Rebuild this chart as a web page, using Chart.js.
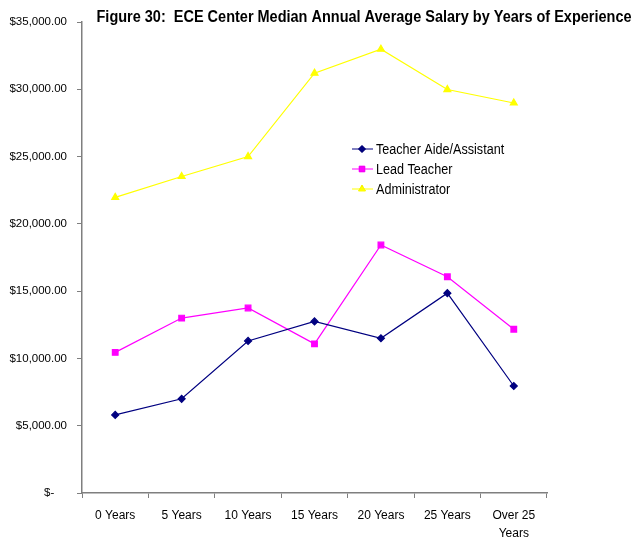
<!DOCTYPE html>
<html>
<head>
<meta charset="utf-8">
<script src="https://cdn.jsdelivr.net/npm/chart.js@4.4.1/dist/chart.umd.min.js"></script>
<style>
  html, body { margin: 0; padding: 0; background: #fff; }
  #wrap { width: 635px; height: 538px; }
</style>
</head>
<body>
<div id="wrap"><canvas id="salary-chart" width="635" height="538"></canvas></div>
<script>
const chartTitle = 'Figure 30:  ECE Center Median Annual Average Salary by Years of Experience';
const categories = ['0 Years', '5 Years', '10 Years', '15 Years', '20 Years', '25 Years', ['Over 25', 'Years']];
const seriesNames = ['Teacher Aide/Assistant', 'Lead Teacher', 'Administrator'];
const aideValues = [5800, 7000, 11300, 12750, 11500, 14850, 7950];
const leadValues = [10450, 13000, 13750, 11080, 18430, 16070, 12170];
const adminValues = [21970, 23520, 25000, 31200, 32980, 29980, 28980];
const yTicks = [0, 5000, 10000, 15000, 20000, 25000, 30000, 35000];

const FONT = '"Liberation Sans", Arial, sans-serif';
const AXIS_GREY = '#7f7f7f';

// accounting style: zero shows as a dash sitting under the digits
const fmtMoney = (v) => v === 0 ? '$-    ' :
  '$' + v.toLocaleString('en-US', { minimumFractionDigits: 2, maximumFractionDigits: 2 });

// squeeze text sideways a bit, the original uses a narrow face
function narrowText(ctx, text, x, y, squeeze) {
  ctx.save();
  ctx.translate(x, y);
  ctx.scale(squeeze, 1);
  ctx.fillText(text, 0, 0);
  ctx.restore();
}

// title + legend are painted by hand so they can sit where the original has them
const overlay = {
  id: 'overlay',
  afterDraw(chart) {
    const ctx = chart.ctx;
    ctx.save();
    ctx.fillStyle = '#000';
    ctx.font = 'bold 16px ' + FONT;
    ctx.textAlign = 'center';
    ctx.textBaseline = 'middle';
    const w = ctx.measureText(chartTitle).width;
    narrowText(ctx, chartTitle, 364, 18, 535 / w);

    ctx.font = '14px ' + FONT;
    ctx.textAlign = 'left';
    chart.data.datasets.forEach((ds, i) => {
      const y = 149 + i * 20;
      ctx.strokeStyle = ds.borderColor;
      ctx.lineWidth = 1;
      ctx.beginPath();
      ctx.moveTo(352, y);
      ctx.lineTo(373, y);
      ctx.stroke();
      Chart.helpers.drawPoint(ctx, {
        pointStyle: ds.pointStyle,
        radius: ds.pointRadius,
        borderWidth: 1
      }, 362, y);
      ctx.fillStyle = ds.pointBackgroundColor;
      ctx.fill();
      ctx.fillStyle = '#000';
      narrowText(ctx, seriesNames[i], 376, y + 1, 0.9);
    });
    ctx.restore();
  }
};

new Chart(document.getElementById('salary-chart'), {
  type: 'line',
  data: {
    labels: categories,
    datasets: [{
      label: seriesNames[0],
      data: aideValues,
      borderColor: '#000080',
      backgroundColor: '#000080',
      pointBackgroundColor: '#000080',
      pointBorderColor: '#000080',
      pointStyle: 'rectRot',
      pointRadius: 3.5,
      borderWidth: 1.2
    }, {
      label: seriesNames[1],
      data: leadValues,
      borderColor: '#ff00ff',
      backgroundColor: '#ff00ff',
      pointBackgroundColor: '#ff00ff',
      pointBorderColor: '#ff00ff',
      pointStyle: 'rect',
      pointRadius: 4,
      borderWidth: 1.2
    }, {
      label: seriesNames[2],
      data: adminValues,
      borderColor: '#ffff00',
      backgroundColor: '#ffff00',
      pointBackgroundColor: '#ffff00',
      pointBorderColor: '#ffff00',
      pointStyle: 'triangle',
      pointRadius: 4,
      borderWidth: 1.2
    }]
  },
  options: {
    responsive: false,
    animation: false,
    layout: { padding: { top: 22, right: 88, left: 0, bottom: 0 } },
    plugins: {
      legend: { display: false },
      title: { display: false },
      tooltip: { enabled: false }
    },
    scales: {
      x: {
        offset: true,
        grid: { display: true, drawOnChartArea: false, offset: true, tickLength: 5, color: AXIS_GREY },
        border: { color: AXIS_GREY, width: 1.5 },
        ticks: { color: '#000', font: { family: FONT, size: 12, lineHeight: 1.5 }, padding: 9, maxRotation: 0, autoSkip: false },
        afterFit(scale) { scale.height = 45; }
      },
      y: {
        min: 0,
        max: 35000,
        afterBuildTicks(scale) { scale.ticks = yTicks.map(v => ({ value: v })); },
        grid: { display: true, drawOnChartArea: false, tickLength: 5, color: AXIS_GREY },
        border: { color: AXIS_GREY, width: 1.5 },
        ticks: {
          color: '#000',
          font: { family: FONT, size: 11.5 },
          padding: 10,
          callback: (v) => fmtMoney(v)
        },
        afterFit(scale) { scale.width = 82; }
      }
    }
  },
  plugins: [overlay]
});
</script>
</body>
</html>
